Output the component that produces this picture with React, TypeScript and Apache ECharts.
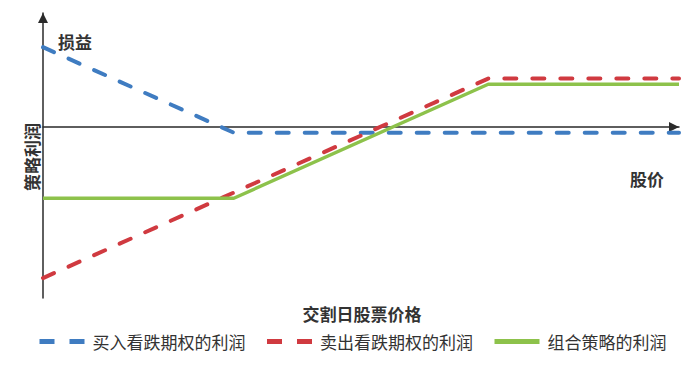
import React, { useEffect, useRef } from "react";
import * as echarts from "echarts";

const seriesNames = ["买入看跌期权的利润", "卖出看跌期权的利润", "组合策略的利润"];
const buyPutX = [0, 30, 100];
const buyPutY = [28, -2, -2];
const sellPutX = [0, 70, 100];
const sellPutY = [-53, 17, 17];
const comboX = [0, 30, 70, 100];
const comboY = [-25, -25, 15, 15];

const yTitle = "损益";
const xTitle = "股价";
const xAxisName = "交割日股票价格";
const yAxisName = "策略利润";

const colors = ["#3f7cc1", "#d03a40", "#8dc24b"];
const FONT = '"Noto Sans CJK SC", "Noto Sans", sans-serif';

function pairs(xs: number[], ys: number[]) {
  return xs.map((x, i) => [x, ys[i]]);
}

export default function App() {
  const ref = useRef<HTMLDivElement>(null);
  useEffect(() => {
    if (!ref.current) return;
    const chart = echarts.init(ref.current, undefined, { renderer: "svg" });
    const axisLine = {
      show: true,
      onZero: true,
      symbol: ["none", "triangle"],
      symbolSize: [10, 10],
      symbolOffset: [0, -5],
      lineStyle: { color: "#2a2a2a", width: 1.5 },
    };
    const hiddenSymbol = { opacity: 0, borderWidth: 0, color: "rgba(0,0,0,0)" };
    chart.setOption({
      animation: false,
      backgroundColor: "#ffffff",
      grid: { left: 43, right: 14, top: 13, bottom: 68 },
      xAxis: {
        type: "value",
        min: 0,
        max: 100,
        axisLine,
        axisTick: { show: false },
        axisLabel: { show: false },
        splitLine: { show: false },
      },
      yAxis: {
        type: "value",
        min: -60,
        max: 40,
        axisLine,
        axisTick: { show: false },
        axisLabel: { show: false },
        splitLine: { show: false },
      },
      legend: {
        left: 32,
        top: 328,
        itemWidth: 45,
        itemHeight: 14,
        itemGap: 19,
        textStyle: { fontFamily: FONT, fontSize: 17, color: "#333", padding: [0, 0, 0, 3] },
        data: [
          { name: seriesNames[0], itemStyle: hiddenSymbol, lineStyle: { width: 5, type: [15, 15], cap: "butt" } },
          { name: seriesNames[1], itemStyle: hiddenSymbol, lineStyle: { width: 5, type: [15, 15], cap: "butt" } },
          { name: seriesNames[2], itemStyle: hiddenSymbol, lineStyle: { width: 5, type: "solid", cap: "butt" } },
        ],
      },
      series: [
        {
          name: seriesNames[0],
          type: "line",
          symbol: "none",
          data: pairs(buyPutX, buyPutY),
          lineStyle: { color: colors[0], width: 4, type: [12, 16], cap: "round" },
          itemStyle: { color: colors[0] },
          z: 3,
        },
        {
          name: seriesNames[1],
          type: "line",
          symbol: "none",
          data: pairs(sellPutX, sellPutY),
          lineStyle: { color: colors[1], width: 4, type: [12, 16], cap: "round" },
          itemStyle: { color: colors[1] },
          z: 3,
        },
        {
          name: seriesNames[2],
          type: "line",
          symbol: "none",
          data: pairs(comboX, comboY),
          lineStyle: { color: colors[2], width: 3.5, type: "solid" },
          itemStyle: { color: colors[2] },
          z: 4,
        },
      ],
      graphic: [
        {
          type: "text",
          left: 58,
          top: 33,
          style: { text: yTitle, fontFamily: FONT, fontSize: 17, fontWeight: "bold", fill: "#333" },
        },
        {
          type: "text",
          left: 630,
          top: 170,
          style: { text: xTitle, fontFamily: FONT, fontSize: 17, fontWeight: "bold", fill: "#333" },
        },
        {
          type: "text",
          x: 362,
          y: 313,
          style: {
            text: xAxisName,
            fontFamily: FONT,
            fontSize: 17,
            fontWeight: "bold",
            fill: "#333",
            align: "center",
            verticalAlign: "middle",
          },
        },
        {
          type: "text",
          x: 31,
          y: 157,
          rotation: Math.PI / 2,
          style: {
            text: yAxisName,
            fontFamily: FONT,
            fontSize: 17,
            fontWeight: "bold",
            fill: "#333",
            align: "center",
            verticalAlign: "middle",
          },
        },
      ],
    });
    return () => chart.dispose();
  }, []);
  return <div ref={ref} style={{ width: 693, height: 366, position: "absolute", left: 0, top: 0 }} />;
}
